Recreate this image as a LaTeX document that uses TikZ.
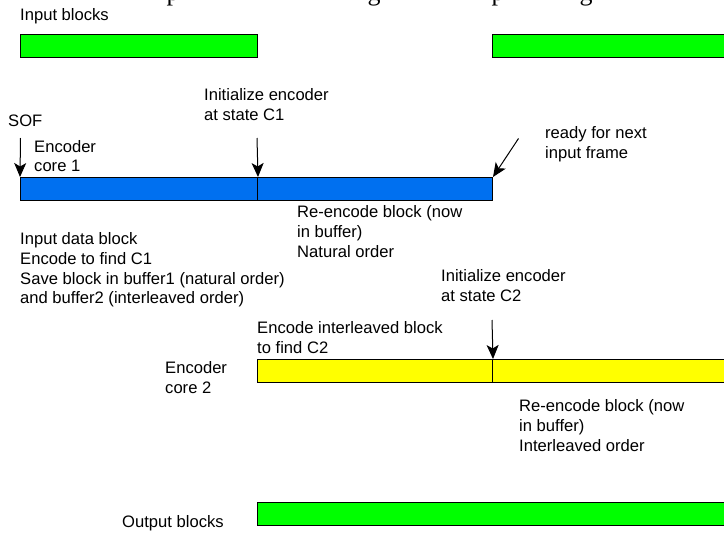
\documentclass[tikz,border=0pt]{standalone}
\usepackage{fontspec}
\setmainfont{Liberation Sans}
\newfontfamily\capfont{Liberation Serif}
\usetikzlibrary{arrows.meta}

\definecolor{blockgreen}{RGB}{0,255,0}
\definecolor{coreblue}{RGB}{0,112,240}
\definecolor{coreyellow}{RGB}{255,255,0}

\begin{document}
\begin{tikzpicture}[x=1pt,y=-1pt,
  lbl/.style={anchor=north west, inner sep=0pt, align=left,
              font=\fontsize{16.6}{19.7}\selectfont},
  seg/.style={draw=black, line width=1pt, anchor=north west, inner sep=0pt,
              minimum height=23pt},
  marker/.style={-{Stealth[length=14pt,width=12pt,inset=3.5pt]}, line width=1pt},
  capglyph/.style={anchor=base, inner sep=0pt, font=\capfont\fontsize{26}{26}\selectfont},
]
\useasboundingbox (0,0) rectangle (724,533);

% caption line running off the top edge
\node[capglyph] (cp1) at (173,0.5) {p};
\node[capglyph] (cg1) at (374,0.5) {g};
\node[capglyph] (cp2) at (498,0.5) {p};
\node[capglyph] (cg2) at (586,0.5) {g};

% input blocks
\node[lbl] (inlbl) at (20,8.5) {Input blocks};
\node[seg, fill=blockgreen, minimum width=237pt] (in1) at (20,34) {};
\node[seg, fill=blockgreen, minimum width=240pt] (in2) at (492,34) {};

% encoder core 1
\node[seg, fill=coreblue, minimum width=237pt] (c1a) at (20,177) {};
\node[seg, fill=coreblue, minimum width=235pt] (c1b) at (257,177) {};

\node[lbl] (sof) at (8,115) {SOF};
\node[lbl] (core1) at (34,140) {Encoder\\core 1};
\node[lbl] (init1) at (204,88.5) {Initialize encoder\\at state C1};
\node[lbl] (ready) at (545,126.5) {ready for next\\input frame};
\node[lbl] (reenc1) at (297,205.5) {Re-encode block (now\\in buffer)\\Natural order};
\node[lbl] (pass1) at (20,232.5) {Input data block\\Encode to find C1\\Save block in buffer1 (natural order)\\and buffer2 (interleaved order)};

\coordinate (sofstart) at (20.5,138);
\coordinate (init1start) at (257,138);
\coordinate (readystart) at (518.5,138.5);
\draw[marker] (sofstart) -- (c1a.north west);
\draw[marker] (init1start) -- (c1a.north east);
\draw[marker] (readystart) -- (c1b.north east);

% encoder core 2
\node[seg, fill=coreyellow, minimum width=235pt] (c2a) at (257,359) {};
\node[seg, fill=coreyellow, minimum width=240pt] (c2b) at (492,359) {};

\node[lbl] (init2) at (441,269.5) {Initialize encoder\\at state C2};
\node[lbl] (pass2) at (257,321.5) {Encode interleaved block\\to find C2};
\node[lbl] (core2) at (165,361.5) {Encoder\\core 2};
\node[lbl] (reenc2) at (519,399.5) {Re-encode block (now\\in buffer)\\Interleaved order};

\coordinate (init2start) at (492,320);
\draw[marker] (init2start) -- (c2a.north east);

% output blocks
\node[lbl] (outlbl) at (122,515.5) {Output blocks};
\node[seg, fill=blockgreen, minimum width=475pt] (out1) at (257,502) {};
\end{tikzpicture}
\end{document}
